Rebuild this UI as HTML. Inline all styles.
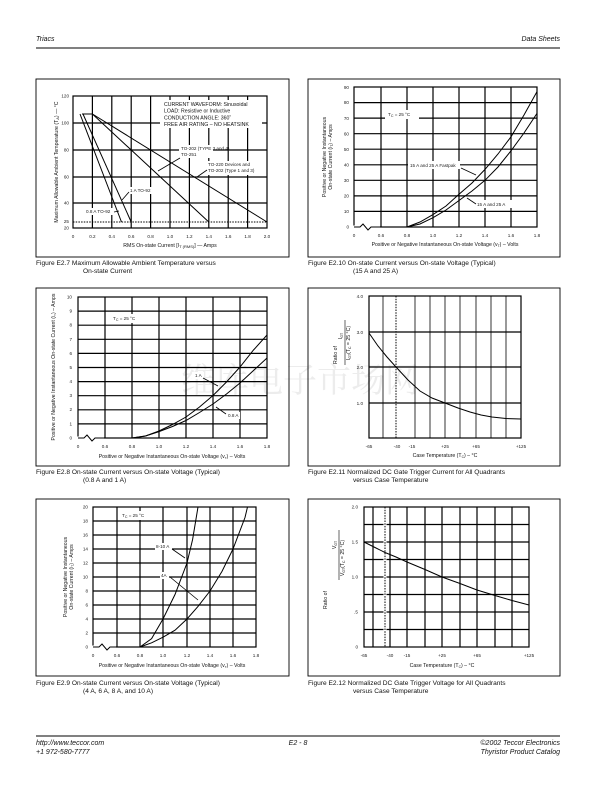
<!DOCTYPE html>
<html><head><meta charset="utf-8"><style>
html,body{margin:0;padding:0;background:#fff;}
svg{display:block;font-family:"Liberation Sans",Arial,sans-serif;}
.t{font-size:4.6px;fill:#222}
.a{font-size:5.2px;fill:#111}
.c{font-size:6.6px;fill:#111}
.h{font-size:7px;font-style:italic;fill:#111}
.g{stroke:#000;stroke-width:1.2;fill:none}
.gt{stroke:#000;stroke-width:0.8;fill:none}
.b{stroke:#000;stroke-width:0.9;fill:none}
.cv{stroke:#000;stroke-width:1;fill:none}
.d{stroke:#000;stroke-width:1;stroke-dasharray:1.5,1.2;fill:none}
</style></head><body>
<svg width="612" height="792" viewBox="0 0 612 792" xmlns="http://www.w3.org/2000/svg">
<!-- header -->
<text x="36" y="41" class="h">Triacs</text>
<text x="560" y="41" class="h" text-anchor="end">Data Sheets</text>
<line x1="36" y1="48" x2="560" y2="48" stroke="#000" stroke-width="1"/>
<!-- watermark -->
<text x="300" y="392" font-size="34" fill="#ececec" text-anchor="middle" font-family="'Noto Serif CJK SC','Noto Sans CJK SC',serif">维库电子市场网</text>

<!-- ================= Chart 1 E2.7 ================= -->
<rect x="36" y="79" width="253" height="178" class="b"/>
<g class="g">
<rect x="73" y="96" width="194" height="132"/>
<line x1="92.4" y1="96" x2="92.4" y2="228"/><line x1="111.8" y1="96" x2="111.8" y2="228"/>
<line x1="131.2" y1="96" x2="131.2" y2="228"/><line x1="150.6" y1="96" x2="150.6" y2="228"/>
<line x1="170" y1="96" x2="170" y2="228"/><line x1="189.4" y1="96" x2="189.4" y2="228"/>
<line x1="208.8" y1="96" x2="208.8" y2="228"/><line x1="228.2" y1="96" x2="228.2" y2="228"/>
<line x1="247.6" y1="96" x2="247.6" y2="228"/>
<line x1="73" y1="123" x2="267" y2="123"/><line x1="73" y1="150" x2="267" y2="150"/>
<line x1="73" y1="177" x2="267" y2="177"/><line x1="73" y1="203" x2="267" y2="203"/>
</g>
<line x1="73" y1="222" x2="267" y2="222" class="d"/>
<rect x="160" y="100" width="102" height="28" fill="#fff"/>
<rect x="179" y="145" width="34" height="13" fill="#fff"/>
<rect x="206" y="161" width="50" height="14" fill="#fff"/>
<g class="cv" stroke-width="1.1">
<polyline points="82,114 92.4,114 208.8,222"/>
<line x1="92.4" y1="114" x2="267" y2="222"/>
<line x1="80" y1="114" x2="121.5" y2="222"/>
<line x1="83" y1="114" x2="131.2" y2="222"/>
</g>
<g class="a" font-size="5.4">
<text x="164" y="106">CURRENT WAVEFORM: Sinusoidal</text>
<text x="164" y="112.5">LOAD: Resistive or Inductive</text>
<text x="164" y="119.5">CONDUCTION ANGLE: 360˚</text>
<text x="164" y="126">FREE AIR RATING – NO HEATSINK</text>
</g>
<g class="t" font-size="3.8">
<text x="181" y="150">TO-202 (TYPE 3 and 4)</text><text x="181" y="156">TO-251</text>
<text x="208" y="166">TO-220 Devices and</text><text x="208" y="172">TO-202 (Type 1 and 3)</text>
<rect x="128" y="187" width="28" height="7" fill="#fff"/>
<text x="130" y="192">1 A TO-92</text>
<rect x="84" y="208" width="30" height="7" fill="#fff"/>
<text x="86" y="213">0.8 A TO-92</text>
</g>
<g stroke="#000" stroke-width="0.8">
<line x1="180" y1="158" x2="158" y2="171"/><line x1="207" y1="170" x2="197" y2="177"/>
<line x1="129" y1="192" x2="122" y2="200"/><line x1="114" y1="212" x2="119" y2="211"/>
</g>
<g class="t" font-size="4" text-anchor="end">
<text x="69" y="97.5">120</text><text x="69" y="124.5">100</text><text x="69" y="151.5">80</text>
<text x="69" y="178.5">60</text><text x="69" y="204.5">40</text><text x="69" y="223">25</text><text x="69" y="229.5">20</text>
</g>
<g class="t" font-size="4" text-anchor="middle">
<text x="73" y="238">0</text><text x="92.4" y="238">0.2</text><text x="111.8" y="238">0.4</text><text x="131.2" y="238">0.6</text>
<text x="150.6" y="238">0.8</text><text x="170" y="238">1.0</text><text x="189.4" y="238">1.2</text><text x="208.8" y="238">1.4</text>
<text x="228.2" y="238">1.6</text><text x="247.6" y="238">1.8</text><text x="267" y="238">2.0</text>
</g>
<text x="170" y="247" class="a" font-size="6" text-anchor="middle">RMS On-state Current [I<tspan font-size="4" dy="1">T (RMS)</tspan><tspan dy="-1">] — Amps</tspan></text>
<text transform="translate(58,162) rotate(-90)" class="a" font-size="6" text-anchor="middle">Maximum Allowable Ambient Temperature (T<tspan font-size="4" dy="1">A</tspan><tspan dy="-1">) — °C</tspan></text>
<text x="36" y="265" class="c">Figure E2.7   Maximum Allowable Ambient Temperature versus</text>
<text x="83" y="273" class="c">On-state Current</text>

<!-- ================= Chart 2 E2.10 ================= -->
<rect x="308" y="79" width="252" height="178" class="b"/>
<g class="g">
<rect x="354" y="87" width="183" height="140"/>
<line x1="381" y1="87" x2="381" y2="227"/><line x1="407" y1="87" x2="407" y2="227"/>
<line x1="433" y1="87" x2="433" y2="227"/><line x1="459" y1="87" x2="459" y2="227"/>
<line x1="485" y1="87" x2="485" y2="227"/><line x1="511" y1="87" x2="511" y2="227"/>
<line x1="354" y1="211.4" x2="537" y2="211.4"/><line x1="354" y1="195.9" x2="537" y2="195.9"/>
<line x1="354" y1="180.3" x2="537" y2="180.3"/><line x1="354" y1="164.8" x2="537" y2="164.8"/>
<line x1="354" y1="149.2" x2="537" y2="149.2"/><line x1="354" y1="133.7" x2="537" y2="133.7"/>
<line x1="354" y1="118.1" x2="537" y2="118.1"/><line x1="354" y1="102.6" x2="537" y2="102.6"/>
</g>
<polyline points="352,229 354,227 380,227" stroke="#fff" stroke-width="3" fill="none"/>
<polyline points="354,227 360,227 363,224 368,230 371,227 380,227" class="cv"/>
<rect x="408" y="161" width="52" height="8" fill="#fff"/>
<rect x="475" y="200" width="40" height="8" fill="#fff"/>
<rect x="385" y="110" width="34" height="9" fill="#fff"/>
<polyline class="cv" points="407,227 420,222 433,214.6 446,206 459,194.3 472,183 485,169.4 498,154 511,136.8 524,115 537,91.6"/>
<polyline class="cv" points="407,227 420,224 433,217.7 446,210 459,200.5 472,191 485,180.3 498,167 511,150.8 524,133 537,113.4"/>
<text x="388" y="116" class="t" font-size="5">T<tspan font-size="3.6" dy="1">C</tspan><tspan dy="-1"> = 25 °C</tspan></text>
<text x="410" y="167" class="t" font-size="4.2">15 A and 25 A Fastpak</text>
<text x="477" y="206" class="t" font-size="4.2">15 A and 25 A</text>
<g stroke="#000" stroke-width="0.8"><line x1="461" y1="168" x2="476" y2="175"/><line x1="467" y1="198" x2="476" y2="204"/></g>
<g class="t" font-size="4" text-anchor="end">
<text x="349" y="89">90</text><text x="349" y="104">80</text><text x="349" y="120">70</text><text x="349" y="135.5">60</text>
<text x="349" y="151">50</text><text x="349" y="166.5">40</text><text x="349" y="182">30</text><text x="349" y="197.5">20</text>
<text x="349" y="213">10</text><text x="349" y="228.5">0</text>
</g>
<g class="t" font-size="4" text-anchor="middle">
<text x="354" y="237">0</text><text x="381" y="237">0.6</text><text x="407" y="237">0.8</text><text x="433" y="237">1.0</text>
<text x="459" y="237">1.2</text><text x="485" y="237">1.4</text><text x="511" y="237">1.6</text><text x="537" y="237">1.8</text>
</g>
<text x="445" y="246" class="a" font-size="4.6" text-anchor="middle">Positive or Negative Instantaneous On-state Voltage (v<tspan font-size="3.4" dy="1">T</tspan><tspan dy="-1">) – Volts</tspan></text>
<text transform="translate(326,157) rotate(-90)" class="a" font-size="4.6" text-anchor="middle">Positive or Negative Instantaneous</text>
<text transform="translate(332,157) rotate(-90)" class="a" font-size="4.6" text-anchor="middle">On-state Current (i<tspan font-size="3.4" dy="1">T</tspan><tspan dy="-1">) – Amps</tspan></text>
<text x="308" y="265" class="c">Figure E2.10 On-state Current versus On-state Voltage (Typical)</text>
<text x="353" y="273" class="c">(15 A and 25 A)</text>

<!-- ================= Chart 3 E2.8 ================= -->
<rect x="36" y="288" width="253" height="178" class="b"/>
<g class="g">
<rect x="78" y="297" width="189" height="141"/>
<line x1="105" y1="297" x2="105" y2="438"/><line x1="132" y1="297" x2="132" y2="438"/>
<line x1="159" y1="297" x2="159" y2="438"/><line x1="186" y1="297" x2="186" y2="438"/>
<line x1="213" y1="297" x2="213" y2="438"/><line x1="240" y1="297" x2="240" y2="438"/>
<line x1="78" y1="423.9" x2="267" y2="423.9"/><line x1="78" y1="409.8" x2="267" y2="409.8"/>
<line x1="78" y1="395.7" x2="267" y2="395.7"/><line x1="78" y1="381.6" x2="267" y2="381.6"/>
<line x1="78" y1="367.5" x2="267" y2="367.5"/><line x1="78" y1="353.4" x2="267" y2="353.4"/>
<line x1="78" y1="339.3" x2="267" y2="339.3"/><line x1="78" y1="325.2" x2="267" y2="325.2"/>
<line x1="78" y1="311.1" x2="267" y2="311.1"/>
</g>
<polyline points="76,440 78,438 104,438" stroke="#fff" stroke-width="3" fill="none"/>
<polyline points="78,438 84,438 87,435 92,441 95,438 104,438" class="cv"/>
<rect x="111" y="314" width="34" height="9" fill="#fff"/>
<rect x="192" y="372" width="12" height="7" fill="#fff"/>
<rect x="226" y="412" width="14" height="7" fill="#fff"/>
<polyline class="cv" points="132,438 145.5,436 159,431 172.5,424.5 186,417 199.5,407 213,395.5 226.5,382 240,367 253.5,350 267,335"/>
<polyline class="cv" points="132,438 145.5,436 159,431.6 172.5,426.5 186,420.5 199.5,412.5 213,404 226.5,394 240,383 253.5,370.5 267,358"/>
<text x="113" y="320" class="t" font-size="5">T<tspan font-size="3.6" dy="1">C</tspan><tspan dy="-1"> = 25 °C</tspan></text>
<text x="195" y="377" class="t" font-size="4.2">1 A</text>
<text x="228" y="417" class="t" font-size="4.2">0.8 A</text>
<g stroke="#000" stroke-width="0.8"><line x1="203" y1="378" x2="218" y2="386"/><line x1="216" y1="407" x2="226" y2="414"/></g>
<g class="t" font-size="4" text-anchor="end">
<text x="72" y="298.5">10</text><text x="72" y="312.5">9</text><text x="72" y="326.5">8</text><text x="72" y="341">7</text>
<text x="72" y="355">6</text><text x="72" y="369">5</text><text x="72" y="383">4</text><text x="72" y="397">3</text>
<text x="72" y="411">2</text><text x="72" y="425.5">1</text><text x="72" y="439.5">0</text>
</g>
<g class="t" font-size="4" text-anchor="middle">
<text x="78" y="448">0</text><text x="105" y="448">0.6</text><text x="132" y="448">0.8</text><text x="159" y="448">1.0</text>
<text x="186" y="448">1.2</text><text x="213" y="448">1.4</text><text x="240" y="448">1.6</text><text x="267" y="448">1.8</text>
</g>
<text x="172" y="458" class="a" font-size="4" text-anchor="middle">Positive or Negative Instantaneous On-state Voltage (v<tspan font-size="3" dy="1">T</tspan><tspan dy="-1">) – Volts</tspan></text>
<text transform="translate(55,367) rotate(-90)" class="a" font-size="4" text-anchor="middle">Positive or Negative Instantaneous On-state Current (i<tspan font-size="3" dy="1">T</tspan><tspan dy="-1">) – Amps</tspan></text>
<text x="36" y="474" class="c">Figure E2.8   On-state Current versus On-state Voltage (Typical)</text>
<text x="83" y="482" class="c">(0.8 A and 1 A)</text>

<!-- ================= Chart 4 E2.11 ================= -->
<rect x="308" y="288" width="252" height="178" class="b"/>
<g class="gt">
<line x1="383" y1="296" x2="383" y2="438"/><line x1="415" y1="296" x2="415" y2="438"/>
<line x1="430" y1="296" x2="430" y2="438"/><line x1="445" y1="296" x2="445" y2="438"/>
<line x1="460" y1="296" x2="460" y2="438"/><line x1="476" y1="296" x2="476" y2="438"/>
<line x1="491" y1="296" x2="491" y2="438"/><line x1="506" y1="296" x2="506" y2="438"/>
</g>
<line x1="396" y1="296" x2="396" y2="438" class="d"/>
<g class="g">
<rect x="369" y="296" width="152" height="142"/>
<line x1="369" y1="332" x2="521" y2="332"/><line x1="369" y1="367" x2="521" y2="367"/>
<line x1="369" y1="403" x2="521" y2="403"/>
</g>
<polyline class="cv" stroke-width="1.1" points="369,333 378,346 387,357 396,367 408,380 420,391 432,398 445,403 458,408 470,412 481,415 492,417 506,418.5 521,419"/>
<g class="t" font-size="4" text-anchor="end">
<text x="363" y="298">4.0</text><text x="363" y="334">3.0</text><text x="363" y="369">2.0</text><text x="363" y="405">1.0</text>
</g>
<g class="t" font-size="4" text-anchor="middle">
<text x="369" y="448">-65</text><text x="397" y="448">-40</text><text x="412" y="448">-15</text>
<text x="445" y="448">+25</text><text x="476" y="448">+65</text><text x="521" y="448">+125</text>
</g>
<text x="445" y="457" class="a" font-size="4.6" text-anchor="middle">Case Temperature (T<tspan font-size="3.4" dy="1">C</tspan><tspan dy="-1">) – °C</tspan></text>
<text transform="translate(337,355) rotate(-90)" class="a" font-size="4.6" text-anchor="middle">Ratio of</text>
<text transform="translate(342,336) rotate(-90)" class="a" font-size="4.6" text-anchor="middle">I<tspan font-size="3.4" dy="1">GT</tspan></text>
<line x1="345" y1="320" x2="345" y2="365" stroke="#000" stroke-width="0.6"/>
<text transform="translate(350,343) rotate(-90)" class="a" font-size="4.6" text-anchor="middle">I<tspan font-size="3.4" dy="1">GT</tspan><tspan dy="-1">(T</tspan><tspan font-size="3.4" dy="1">C</tspan><tspan dy="-1"> = 25 °C)</tspan></text>
<text x="308" y="474" class="c">Figure E2.11 Normalized DC Gate Trigger Current for All Quadrants</text>
<text x="353" y="482" class="c">versus Case Temperature</text>

<!-- ================= Chart 5 E2.9 ================= -->
<rect x="36" y="499" width="253" height="177" class="b"/>
<g class="g">
<rect x="93" y="507" width="163" height="140"/>
<line x1="117" y1="507" x2="117" y2="647"/><line x1="140" y1="507" x2="140" y2="647"/>
<line x1="163" y1="507" x2="163" y2="647"/><line x1="187" y1="507" x2="187" y2="647"/>
<line x1="210" y1="507" x2="210" y2="647"/><line x1="233" y1="507" x2="233" y2="647"/>
<line x1="93" y1="633" x2="256" y2="633"/><line x1="93" y1="619" x2="256" y2="619"/>
<line x1="93" y1="605" x2="256" y2="605"/><line x1="93" y1="591" x2="256" y2="591"/>
<line x1="93" y1="577" x2="256" y2="577"/><line x1="93" y1="563" x2="256" y2="563"/>
<line x1="93" y1="549" x2="256" y2="549"/><line x1="93" y1="535" x2="256" y2="535"/>
<line x1="93" y1="521" x2="256" y2="521"/>
</g>
<polyline points="91,649 93,647 116,647" stroke="#fff" stroke-width="3" fill="none"/>
<polyline points="93,647 99,647 102,644 107,650 110,647 116,647" class="cv"/>
<rect x="119" y="511" width="34" height="9" fill="#fff"/>
<rect x="155" y="543" width="17" height="7" fill="#fff"/>
<rect x="160" y="572" width="9" height="7" fill="#fff"/>
<polyline class="cv" points="140,647 151.6,638.6 163,619 175,594.5 187,563 192.6,539.5 198,507"/>
<polyline class="cv" points="140,647 151.6,642.8 163,637.2 175,630.2 187,619 198,606.4 210,591 222,571.4 233,549 245,517.5 247.5,507"/>
<text x="122" y="517" class="t" font-size="5">T<tspan font-size="3.6" dy="1">C</tspan><tspan dy="-1"> = 25 °C</tspan></text>
<text x="156" y="548" class="t" font-size="4">8-10 A</text>
<text x="161" y="577" class="t" font-size="4">4A</text>
<g stroke="#000" stroke-width="0.8"><line x1="172" y1="549" x2="185" y2="558"/><line x1="170" y1="577" x2="198" y2="600"/></g>
<g class="t" font-size="4" text-anchor="end">
<text x="88" y="508.5">20</text><text x="88" y="522.5">18</text><text x="88" y="536.5">16</text><text x="88" y="550.5">14</text>
<text x="88" y="564.5">12</text><text x="88" y="578.5">10</text><text x="88" y="592.5">8</text><text x="88" y="606.5">6</text>
<text x="88" y="620.5">4</text><text x="88" y="634.5">2</text><text x="88" y="648.5">0</text>
</g>
<g class="t" font-size="4" text-anchor="middle">
<text x="93" y="657">0</text><text x="117" y="657">0.6</text><text x="140" y="657">0.8</text><text x="163" y="657">1.0</text>
<text x="187" y="657">1.2</text><text x="210" y="657">1.4</text><text x="233" y="657">1.6</text><text x="256" y="657">1.8</text>
</g>
<text x="172" y="667" class="a" font-size="4.2" text-anchor="middle">Positive or Negative Instantaneous On-state Voltage (v<tspan font-size="3" dy="1">T</tspan><tspan dy="-1">) – Volts</tspan></text>
<text transform="translate(67,577) rotate(-90)" class="a" font-size="4.4" text-anchor="middle">Positive or Negative Instantaneous</text>
<text transform="translate(73,577) rotate(-90)" class="a" font-size="4.4" text-anchor="middle">On-state Current (i<tspan font-size="3.2" dy="1">T</tspan><tspan dy="-1">) – Amps</tspan></text>
<text x="36" y="685" class="c">Figure E2.9   On-state Current versus On-state Voltage (Typical)</text>
<text x="83" y="693" class="c">(4 A, 6 A, 8 A, and 10 A)</text>

<!-- ================= Chart 6 E2.12 ================= -->
<rect x="308" y="499" width="252" height="177" class="b"/>
<g class="g">
<rect x="364" y="507" width="165" height="140"/>
<line x1="373" y1="507" x2="373" y2="647"/><line x1="390" y1="507" x2="390" y2="647"/>
<line x1="407" y1="507" x2="407" y2="647"/><line x1="425" y1="507" x2="425" y2="647"/>
<line x1="442" y1="507" x2="442" y2="647"/><line x1="460" y1="507" x2="460" y2="647"/>
<line x1="477" y1="507" x2="477" y2="647"/><line x1="495" y1="507" x2="495" y2="647"/>
<line x1="512" y1="507" x2="512" y2="647"/>
<line x1="364" y1="524.5" x2="529" y2="524.5"/><line x1="364" y1="542" x2="529" y2="542"/>
<line x1="364" y1="559.5" x2="529" y2="559.5"/><line x1="364" y1="577" x2="529" y2="577"/>
<line x1="364" y1="594.5" x2="529" y2="594.5"/><line x1="364" y1="612" x2="529" y2="612"/>
<line x1="364" y1="629.5" x2="529" y2="629.5"/>
</g>
<rect x="383.5" y="508" width="3" height="138" fill="#fff"/>
<line x1="385" y1="507" x2="385" y2="647" class="d"/>
<polyline class="cv" stroke-width="1.1" points="364,542 375,547.5 385,552.5 396,557 407,562 425,569.5 442,577 460,583.5 477,590 495,595.5 512,600.5 529,605"/>
<g class="t" font-size="4" text-anchor="end">
<text x="358" y="508.5">2.0</text><text x="358" y="543.5">1.5</text><text x="358" y="578.5">1.0</text>
<text x="358" y="613.5">.5</text><text x="358" y="648.5">0</text>
</g>
<g class="t" font-size="4" text-anchor="middle">
<text x="364" y="657">-65</text><text x="390" y="657">-40</text><text x="407" y="657">-15</text>
<text x="442" y="657">+25</text><text x="477" y="657">+65</text><text x="529" y="657">+125</text>
</g>
<text x="442" y="667" class="a" font-size="4.6" text-anchor="middle">Case Temperature (T<tspan font-size="3.4" dy="1">C</tspan><tspan dy="-1">) – °C</tspan></text>
<text transform="translate(327,600) rotate(-90)" class="a" font-size="4.6" text-anchor="middle">Ratio of</text>
<text transform="translate(336,545) rotate(-90)" class="a" font-size="4.6" text-anchor="middle">V<tspan font-size="3.4" dy="1">GT</tspan></text>
<line x1="339" y1="530" x2="339" y2="580" stroke="#000" stroke-width="0.6"/>
<text transform="translate(344,558) rotate(-90)" class="a" font-size="4.6" text-anchor="middle">V<tspan font-size="3.4" dy="1">GT</tspan><tspan dy="-1">(T</tspan><tspan font-size="3.4" dy="1">C</tspan><tspan dy="-1"> = 25 °C)</tspan></text>
<text x="308" y="685" class="c">Figure E2.12 Normalized DC Gate Trigger Voltage for All Quadrants</text>
<text x="353" y="693" class="c">versus Case Temperature</text>

<!-- footer -->
<line x1="36" y1="736" x2="560" y2="736" stroke="#000" stroke-width="1"/>
<text x="36" y="745" class="h" font-size="6.6">http://www.teccor.com</text>
<text x="36" y="754" class="h" font-size="6.6">+1 972-580-7777</text>
<text x="298" y="745" class="h" font-size="6.6" text-anchor="middle">E2 - 8</text>
<text x="560" y="745" class="h" font-size="6.6" text-anchor="end">©2002 Teccor Electronics</text>
<text x="560" y="754" class="h" font-size="6.6" text-anchor="end">Thyristor Product Catalog</text>
</svg>
</body></html>
